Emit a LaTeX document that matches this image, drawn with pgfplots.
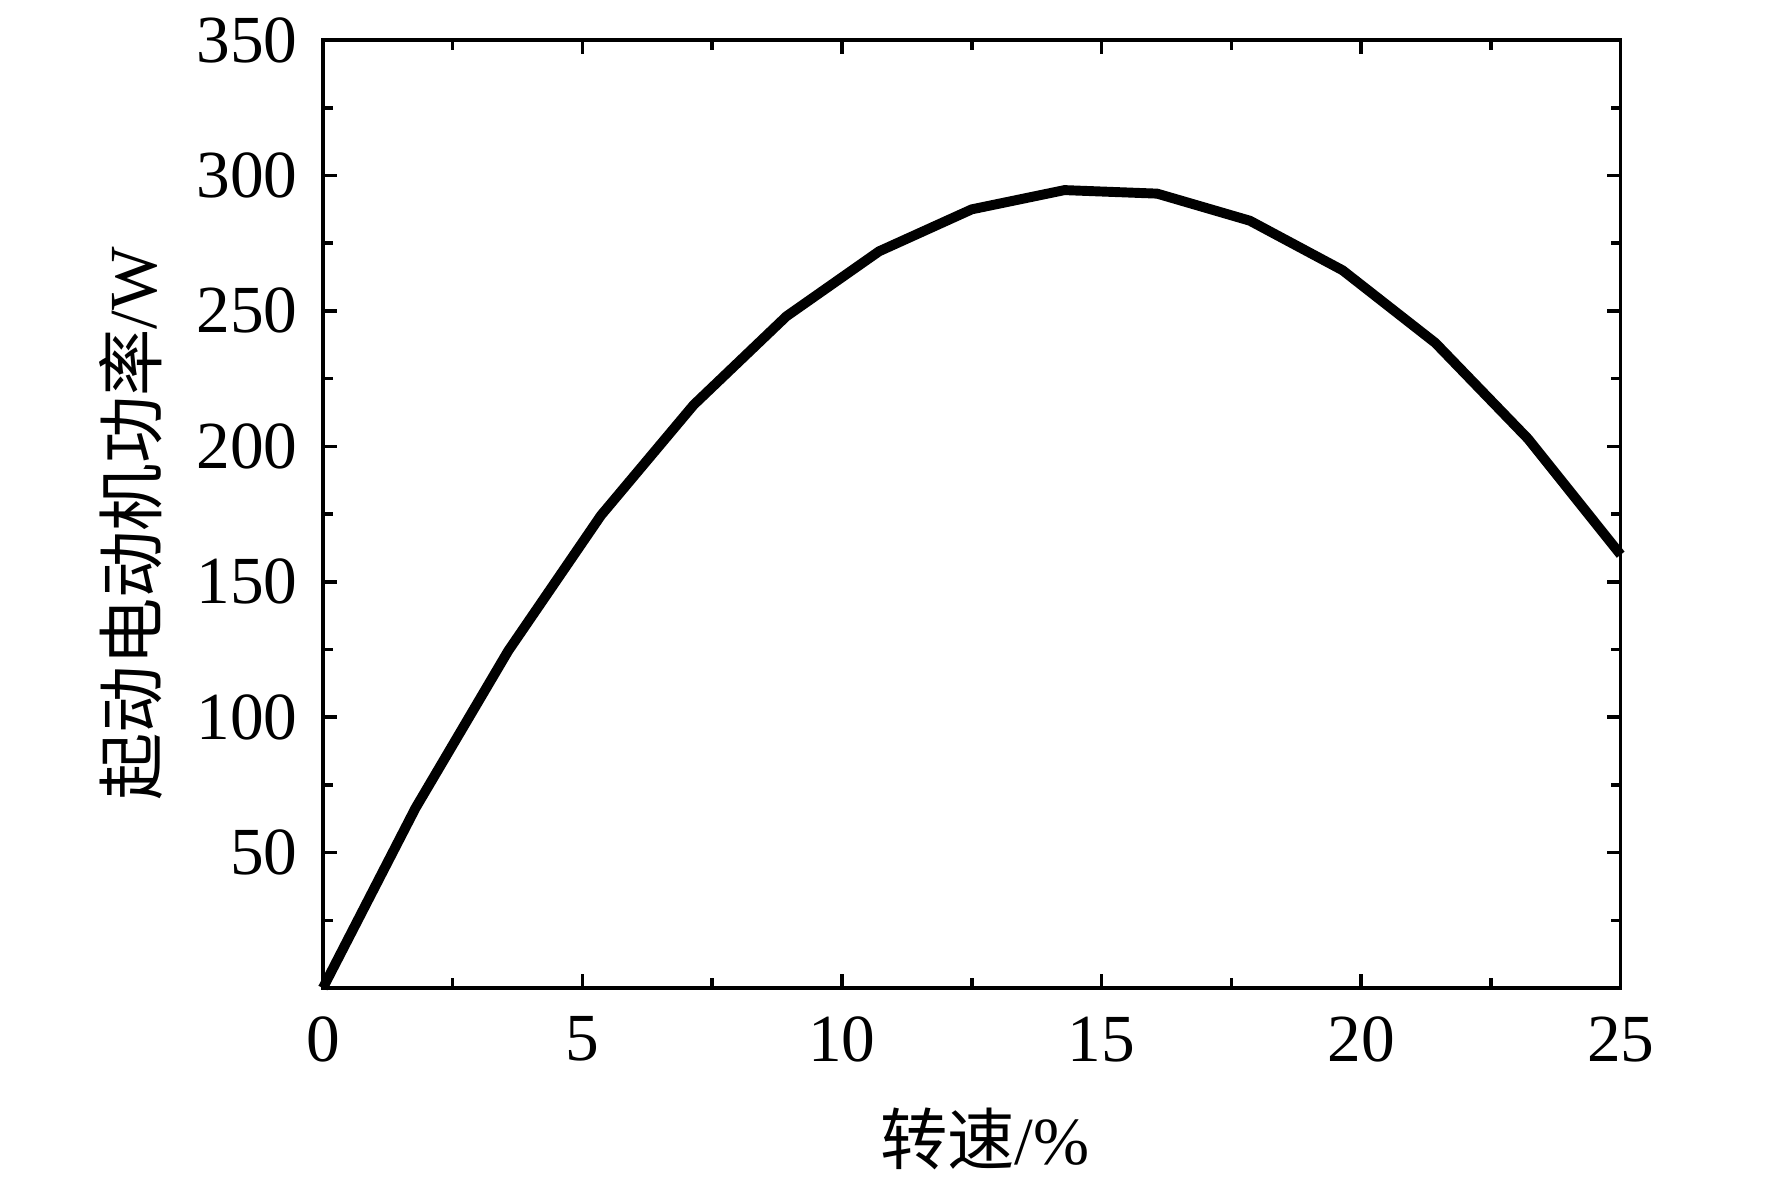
\documentclass[border=0pt]{standalone}
\usepackage{fontspec}
\setmainfont{Liberation Serif}
\newfontfamily\cjk{Noto Sans CJK SC}
\usepackage{pgfplots}
\pgfplotsset{compat=1.18}
\begin{document}
\begin{tikzpicture}
\useasboundingbox (0,0) rectangle (500pt,332.7pt);
\begin{axis}[
  at={(91.1pt,53.9pt)}, anchor=south west,
  scale only axis, width=366.2pt, height=267.5pt,
  xmin=0, xmax=25, ymin=0, ymax=350,
  xtick={0,5,...,25}, minor xtick={2.5,7.5,...,22.5},
  ytick={50,100,...,350}, minor ytick={25,75,...,325},
  tick align=inside,
  major tick length=4pt, minor tick length=2.8pt,
  every tick/.style={black, line width=1pt},
  axis line style={line width=1pt},
  font=\fontsize{19}{22}\selectfont,
  /pgf/number format/assume math mode=true,
  xticklabel style={yshift=-4.5pt},
  yticklabel style={xshift=-3.6pt},
  xlabel={\cjk 转速\rmfamily/\%},
  ylabel={\cjk 起动电动机功率\rmfamily/W},
  xlabel style={at={(axis description cs:0.51,0)}, anchor=center, yshift=-42.5pt},
  ylabel style={at={(axis description cs:-0.148,0.49)}, anchor=center},
  clip=false,
]
\addplot[black, line width=2.8pt, line join=round] coordinates {
(0,0) (1.786,66.5) (3.571,124.5) (5.357,174.5) (7.143,215.3) (8.929,248)
(10.714,272) (12.5,287.5) (14.286,294.6) (16.071,293.3) (17.857,283.3)
(19.643,265) (21.429,238.2) (23.214,202.8) (25,160)
};
\end{axis}
\end{tikzpicture}
\end{document}
